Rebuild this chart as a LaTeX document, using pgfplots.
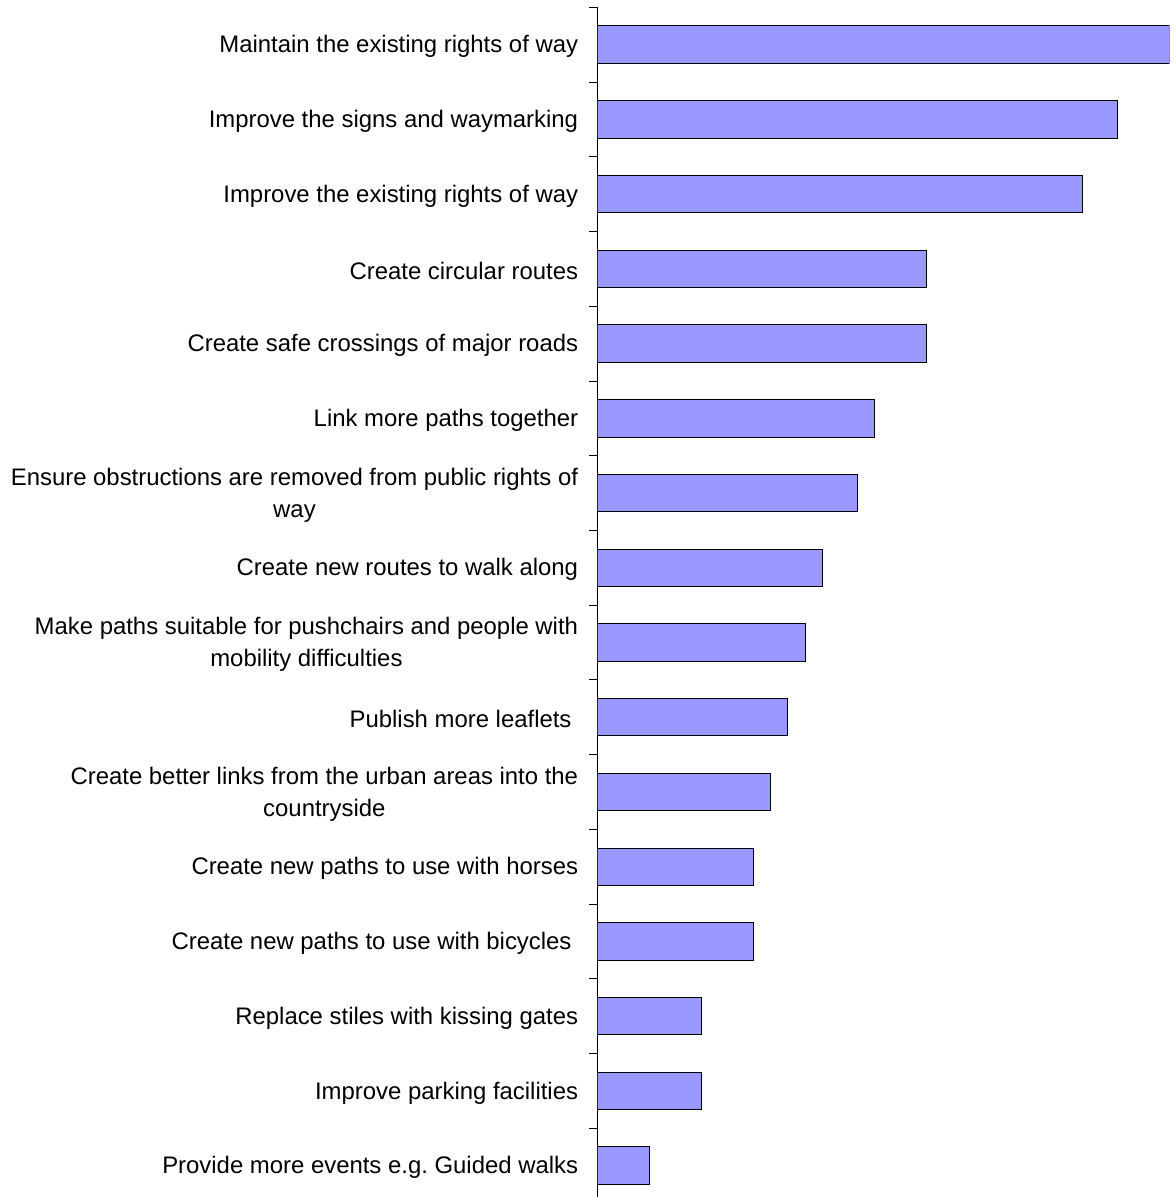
\documentclass[border=0pt]{standalone}
\usepackage{fontspec}
\setmainfont{Liberation Sans}
\usepackage{pgfplots}
\pgfplotsset{compat=1.18}
\definecolor{barfill}{HTML}{9999FF}
\begin{document}
\frenchspacing
\begin{tikzpicture}
\begin{axis}[
  scale only axis,
  width=572pt, height=1195.7pt,
  xmin=0, xmax=33,
  ymin=-0.5, ymax=15.5,
  y dir=reverse,
  axis x line=none,
  axis y line*=left,
  xbar, bar width=0.5,
  xtick=\empty,
  ytick={0,...,15},
  yticklabels={
    Maintain the existing rights of way,
    Improve the signs and waymarking,
    Improve the existing rights of way,
    Create circular routes,
    Create safe crossings of major roads,
    Link more paths together,
    {Ensure obstructions are removed from public rights of\\way},
    Create new routes to walk along,
    {Make paths suitable for pushchairs and people with\\mobility difficulties},
    {Publish more leaflets\hspace*{6.6pt}},
    {Create better links from the urban areas into the\\countryside},
    Create new paths to use with horses,
    {Create new paths to use with bicycles\hspace*{6.6pt}},
    Replace stiles with kissing gates,
    Improve parking facilities,
    {Provide more events e.g.\ Guided walks}},
  minor ytick={-0.5,0.5,...,15.5},
  major tick length=0pt,
  minor tick length=8pt,
  tick align=outside,
  tick style={black, line width=0.8pt},
  axis line style={black, line width=1.1pt},
  yticklabel style={font=\fontsize{23.9}{31.7}\selectfont\frenchspacing, align=center, inner sep=0pt, xshift=-19pt, yshift=-2pt, text=black},
]
\addplot[fill=barfill, draw=black, line width=1pt] coordinates {
(33,0) (30,1) (28,2) (19,3) (19,4) (16,5) (15,6) (13,7)
(12,8) (11,9) (10,10) (9,11) (9,12) (6,13) (6,14) (3,15)};
\end{axis}
\path (current axis.north west) ++(-597.3pt,7.3pt) coordinate (tl);
\path (current axis.south east) ++(3.7pt,6pt) coordinate (br);
\pgfresetboundingbox
\path (tl) rectangle (br);
\end{tikzpicture}
\end{document}
